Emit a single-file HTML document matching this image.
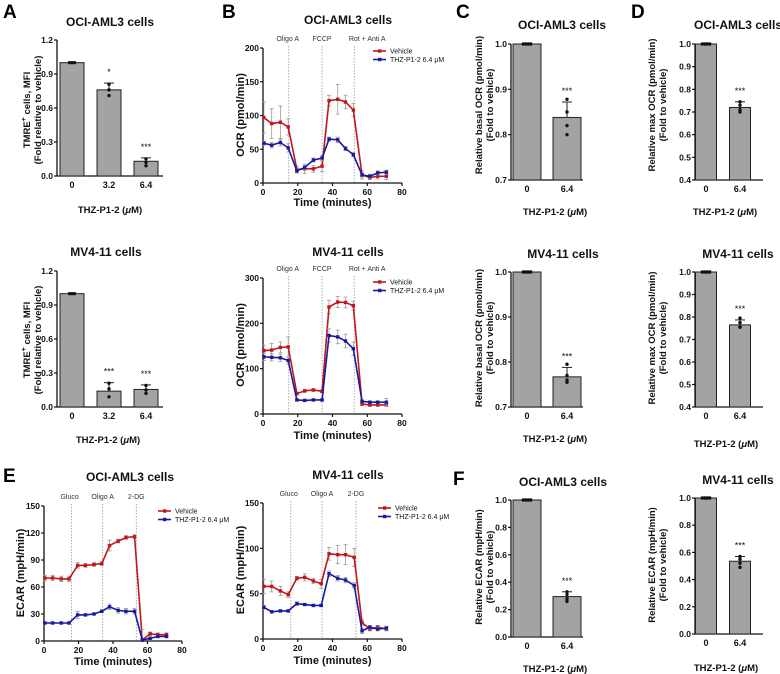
<!DOCTYPE html>
<html><head><meta charset="utf-8"><style>
html,body{margin:0;padding:0;background:#fff}
svg{display:block}
text{font-family:"Liberation Sans",sans-serif}
.b{font-weight:bold}
</style></head><body>
<svg id="fig" width="780" height="674" viewBox="0 0 780 674" xmlns="http://www.w3.org/2000/svg">
<text class="b" x="3" y="18" font-size="19">A</text>
<text class="b" x="222" y="18" font-size="19">B</text>
<text class="b" x="456" y="18" font-size="19">C</text>
<text class="b" x="631" y="18" font-size="19">D</text>
<text class="b" x="3" y="482" font-size="19">E</text>
<text class="b" x="453" y="485" font-size="19">F</text>
</svg>
<script>
// ---- Bar chart data ----
const catsA = ["0","3.2","6.4"];
const valsA_oci = [1.0,0.76,0.13];
const errA_oci = [0,0.06,0.03];
const dotsA_oci = [[1,1,1],[0.81,0.76,0.71],[0.15,0.12,0.09]];
const starsA_oci = ["","*","***"];
const valsA_mv4 = [1.0,0.14,0.155];
const errA_mv4 = [0,0.075,0.04];
const dotsA_mv4 = [[1,1,1],[0.21,0.16,0.09],[0.19,0.15,0.12]];
const starsA_mv4 = ["","***","***"];
const ticksA = [0,0.3,0.6,0.9,1.2];
const tickLabA = ["0.0","0.3","0.6","0.9","1.2"];

const cats2 = ["0","6.4"];
const stars2 = ["","***"];
const valsC_oci = [1.0,0.838]; const errC_oci=[0,0.034];
const dotsC_oci = [[1,1,1,1],[0.878,0.85,0.82,0.80]];
const valsC_mv4 = [1.0,0.767]; const errC_mv4=[0,0.021];
const dotsC_mv4 = [[1,1,1,1],[0.795,0.77,0.76,0.755]];
const ticksC = [0.7,0.8,0.9,1.0]; const tickLabC=["0.7","0.8","0.9","1.0"];
const valsD_oci = [1.0,0.72]; const errD_oci=[0,0.025];
const dotsD_oci = [[1,1,1,1],[0.745,0.73,0.71,0.70]];
const valsD_mv4 = [1.0,0.765]; const errD_mv4=[0,0.022];
const dotsD_mv4 = [[1,1,1,1],[0.795,0.775,0.755,0.755]];
const ticksD = [0.4,0.5,0.6,0.7,0.8,0.9,1.0]; const tickLabD=["0.4","0.5","0.6","0.7","0.8","0.9","1.0"];
const valsF_oci = [1.0,0.295]; const errF_oci=[0,0.035];
const dotsF_oci = [[1,1,1,1],[0.33,0.31,0.28,0.26]];
const valsF_mv4 = [1.0,0.535]; const errF_mv4=[0,0.035];
const dotsF_mv4 = [[1,1,1,1],[0.57,0.55,0.52,0.49]];
const ticksF = [0,0.2,0.4,0.6,0.8,1.0]; const tickLabF=["0.0","0.2","0.4","0.6","0.8","1.0"];

// ---- Line chart data ----
const timesOCR = [0.5,5,10,14.5,19.5,24,29,34,38,43,47.5,52,57,61.5,66,71];
const ocrOciVeh = [97,88,90,83,20,21,21,25,122,124,120,108,12,8,10,10];
const ocrOciVehErr = [23,22,24,12,5,7,5,8,8,22,10,10,6,3,4,5];
const ocrOciThz = [59,56,60,52,18,23,34,37,65,64,51,42,12,10,15,16];
const ocrOciThzErr = [3,4,5,6,3,3,3,4,3,4,3,3,3,3,3,3];
const ocrMvVeh = [140,141,147,148,45,51,53,50,236,247,246,239,22,20,20,20];
const ocrMvVehErr = [12,15,12,22,3,3,3,3,15,12,12,10,3,3,3,3];
const ocrMvThz = [126,125,124,118,31,30,31,31,173,170,161,144,28,26,26,26];
const ocrMvThzErr = [8,8,8,8,2,2,2,2,15,15,15,15,3,3,3,8];
const timesECAR = [0.5,5,10,14.5,19.5,24,29,33.5,38,43,47.5,52.5,57,61.5,66,71];
const ecOciVeh = [70,70,69,69,84,84,85,86,106,111,115,116,1,8,7,7];
const ecOciVehErr = [3,3,3,3,3,2,2,2,6,2,2,2,2,2,2,2];
const ecOciThz = [20,20,20,20,29,29,30,33,38,34,33,33,1,3,5,5];
const ecOciThzErr = [1,1,1,1,4,1,1,1,3,3,3,3,12,1,1,1];
const ecMvVeh = [58,58,53,49,67,68,64,61,94,93,93,90,18,11,13,11];
const ecMvVehErr = [8,6,5,3,2,4,3,5,7,10,11,10,3,2,2,2];
const ecMvThz = [35,30,31,31,39,38,37,37,72,67,65,59,9,13,11,12];
const ecMvThzErr = [2,1,1,1,2,1,1,1,3,3,3,3,3,2,2,2];
const ocrTicks = [0,50,100,150,200]; const ocrTicksMv=[0,100,200,300];
const ecTicks = [0,30,60,90,120,150]; const ecTicksMv=[0,50,100,150];
const xTicks = [0,20,40,60,80];
const ocrEvents = ["Oligo A","FCCP","Rot + Anti A"]; const ocrEventT=[14.8,34,52.5];
const ecEvents = ["Gluco","Oligo A","2-DG"]; const ecEventT=[16,34,53.5];

const NS="http://www.w3.org/2000/svg";
const svg=document.getElementById('fig');
function mk(tag,attrs,parent){const e=document.createElementNS(NS,tag);for(const k in attrs)e.setAttribute(k,attrs[k]);(parent||svg).appendChild(e);return e;}
function txt(s,x,y,size,bold,anchor,parent,extra){const t=mk('text',Object.assign({x:x,y:y,'font-size':size,'text-anchor':anchor||'middle','font-weight':bold?'bold':'normal',fill:'#111'},extra||{}),parent);t.textContent=s;return t;}

function yAxis(g,L,ticks,labs){
  const sy=v=>L.yb-(v-L.ymin)/(L.ymax-L.ymin)*(L.yb-L.yt);
  mk('line',{x1:L.x0,y1:sy(L.ymax),x2:L.x0,y2:L.yb,stroke:'#111','stroke-width':1.3},g);
  ticks.forEach((v,i)=>{mk('line',{x1:L.x0-3,y1:sy(v),x2:L.x0,y2:sy(v),stroke:'#111','stroke-width':1.2},g);
    txt(labs[i],L.x0-4,sy(v)+3,8.5,true,'end',g);});
  return sy;
}

function barChart(name,L,cats,vals,errs,dots,stars,ticks,labs){
  const g=mk('g',{});
  
  
  const sy=yAxis(g,L,ticks,labs);
  const sx=i=>L.x0+L.first+i*L.step;
  mk('line',{x1:L.x0,y1:L.yb,x2:L.xe,y2:L.yb,stroke:'#111','stroke-width':1.3},g);
  cats.forEach((c,i)=>{
    const cx=sx(i);
    const r=mk('rect',{x:cx-L.bw/2,y:sy(vals[i]),width:L.bw,height:L.yb-sy(vals[i]),fill:'#a3a3a3',stroke:'#222','stroke-width':1},g);
    
    
    if(errs[i]>0){const e1=sy(vals[i]+errs[i]);
      mk('line',{x1:cx,y1:sy(vals[i]),x2:cx,y2:e1,stroke:'#222','stroke-width':1},g);
      mk('line',{x1:cx-5,y1:e1,x2:cx+5,y2:e1,stroke:'#222','stroke-width':1},g);}
    dots[i].forEach((d,j)=>{const n=dots[i].length;const off=(vals[i]>=0.999)?(j-(n-1)/2)*2.5:0;
      mk('circle',{cx:cx+off,cy:sy(d),r:1.7,fill:'#111'},g);});
    if(stars[i]){txt(stars[i],cx,sy(vals[i]+errs[i])-8,9,false,'middle',g);}
    const tl=txt(c,cx,L.yb+12,9,true,'middle',g);
    
    
  });
  const t=txt(L.title,L.tx,L.ty,12,true,'middle',g);
  
  
  const xt=txt('',L.axx,L.axy,9.5,true,'middle',g);
  const s1=mk('tspan',{},xt);s1.textContent='THZ-P1-2 (';
  const s2=mk('tspan',{'font-style':'italic'},xt);s2.textContent='μ';
  const s3=mk('tspan',{},xt);s3.textContent='M)';
  
  
  const yg=mk('g',{transform:`translate(${L.ytx},${L.yty}) rotate(-90)`},g);
  
  
  L.ylines.forEach((s,i)=>{const tt=txt('',0,i*11,9.5,true,'middle',yg);
    if(s.indexOf('^+')>=0){const p=s.split('^+');const a=mk('tspan',{},tt);a.textContent=p[0];const b=mk('tspan',{dy:-4,'font-size':7},tt);b.textContent='+';const c=mk('tspan',{dy:4},tt);c.textContent=p[1];}
    else tt.textContent=s;});
}

function lineChart(name,L,times,series,ticks,events,evT){
  const g=mk('g',{});
  
  
  const sy=yAxis(g,L,ticks,ticks.map(String));
  const sx=v=>L.x0+v/80*(L.xe-L.x0);
  mk('line',{x1:L.x0,y1:L.yb,x2:L.xe,y2:L.yb,stroke:'#111','stroke-width':1.3},g);
  xTicks.forEach(v=>{mk('line',{x1:sx(v),y1:L.yb,x2:sx(v),y2:L.yb+3,stroke:'#111','stroke-width':1.2},g);
    txt(String(v),sx(v),L.yb+12,8.5,true,'middle',g);});
  events.forEach((e,i)=>{mk('line',{x1:sx(evT[i]),y1:L.yt-2,x2:sx(evT[i]),y2:L.yb,stroke:'#999','stroke-width':0.8,'stroke-dasharray':'1.5,1.5'},g);
    txt(e,sx(evT[i])+L.evOff[i],L.yt-7,7,false,'middle',g,{fill:'#333'});});
  series.forEach(s=>{
    const sg=mk('g',{},g);
    
    
    s.v.forEach((v,i)=>{const x=sx(times[i]);const a=sy(v+s.e[i]),b=sy(Math.max(0,v-s.e[i]));
      mk('line',{x1:x,y1:a,x2:x,y2:b,stroke:'#999','stroke-width':0.8},sg);
      mk('line',{x1:x-2,y1:a,x2:x+2,y2:a,stroke:'#999','stroke-width':0.8},sg);
      mk('line',{x1:x-2,y1:b,x2:x+2,y2:b,stroke:'#999','stroke-width':0.8},sg);});
    mk('polyline',{points:s.v.map((v,i)=>sx(times[i])+','+sy(v)).join(' '),fill:'none',stroke:s.c,'stroke-width':1.6},sg);
    s.v.forEach((v,i)=>mk('rect',{x:sx(times[i])-1.7,y:sy(v)-1.7,width:3.4,height:3.4,fill:s.c},sg));
  });
  const lg=mk('g',{},g);
  
  
  series.forEach((s,i)=>{const y=L.ly+i*8.5;
    mk('line',{x1:L.lx,y1:y,x2:L.lx+13,y2:y,stroke:s.c,'stroke-width':1.6},lg);
    mk('rect',{x:L.lx+5,y:y-1.7,width:3.4,height:3.4,fill:s.c},lg);
    txt(s.label,L.lx+17,y+2.5,7,false,'start',lg);});
  const t=txt(L.title,L.tx,L.ty,12,true,'middle',g);
  
  
  const xt=txt('Time (minutes)',(L.x0+L.xe)/2,L.axy,11,true,'middle',g);
  
  
  const yt=txt(L.ytitle,0,0,11,true,'middle',g,{transform:`translate(${L.ytx},${L.yty}) rotate(-90)`});
  
  
}
const RED='#c0161c',BLUE='#1a1aa0';
const thzLab='THZ-P1-2 6.4 μM';

// A
barChart('chart-a-oci',{x0:57,xe:163,yt:40,yb:176,ymin:0,ymax:1.2,first:15,step:37,bw:24,title:'OCI-AML3 cells',tx:110,ty:26,axx:110,axy:213,ytx:30,yty:110,ylines:['TMRE^+ cells, MFI','(Fold relative to vehicle)']},catsA,valsA_oci,errA_oci,dotsA_oci,starsA_oci,ticksA,tickLabA);
barChart('chart-a-mv4',{x0:57,xe:163,yt:271,yb:407,ymin:0,ymax:1.2,first:15,step:37,bw:24,title:'MV4-11 cells',tx:106,ty:256,axx:108,axy:443,ytx:30,yty:340,ylines:['TMRE^+ cells, MFI','(Fold relative to vehicle)']},catsA,valsA_mv4,errA_mv4,dotsA_mv4,starsA_mv4,ticksA,tickLabA);
// B
lineChart('chart-b-oci',{x0:263,xe:402,yt:48,yb:183,ymin:0,ymax:200,lx:373,ly:51,title:'OCI-AML3 cells',tx:348,ty:24,axy:206,ytx:244,yty:115,ytitle:'OCR (pmol/min)',evOff:[-1,0,13]},timesOCR,
 [{name:'series-vehicle',label:'Vehicle',c:RED,v:ocrOciVeh,e:ocrOciVehErr},{name:'series-thz',label:thzLab,c:BLUE,v:ocrOciThz,e:ocrOciThzErr}],ocrTicks,ocrEvents,ocrEventT);
lineChart('chart-b-mv4',{x0:263,xe:402,yt:278,yb:414,ymin:0,ymax:300,lx:373,ly:282,title:'MV4-11 cells',tx:348,ty:256,axy:439,ytx:244,yty:345,ytitle:'OCR (pmol/min)',evOff:[-1,0,13]},timesOCR,
 [{name:'series-vehicle',label:'Vehicle',c:RED,v:ocrMvVeh,e:ocrMvVehErr},{name:'series-thz',label:thzLab,c:BLUE,v:ocrMvThz,e:ocrMvThzErr}],ocrTicksMv,ocrEvents,ocrEventT);
// C
barChart('chart-c-oci',{x0:511,xe:583,yt:44,yb:180,ymin:0.7,ymax:1.0,first:16,step:40,bw:28,title:'OCI-AML3 cells',tx:562,ty:29,axx:555,axy:215,ytx:482,yty:105,ylines:['Relative basal OCR  (pmol/min)','(Fold to vehicle)']},cats2,valsC_oci,errC_oci,dotsC_oci,stars2,ticksC,tickLabC);
barChart('chart-c-mv4',{x0:511,xe:583,yt:272,yb:407,ymin:0.7,ymax:1.0,first:16,step:40,bw:28,title:'MV4-11 cells',tx:563,ty:258,axx:555,axy:442,ytx:482,yty:338,ylines:['Relative basal OCR  (pmol/min)','(Fold to vehicle)']},cats2,valsC_mv4,errC_mv4,dotsC_mv4,stars2,ticksC,tickLabC);
// D
barChart('chart-d-oci',{x0:695,xe:763,yt:44,yb:180,ymin:0.4,ymax:1.0,first:11,step:34,bw:21,title:'OCI-AML3 cells',tx:738,ty:29,axx:725,axy:215,ytx:655,yty:105,ylines:['Relative max OCR  (pmol/min)','(Fold to vehicle)']},cats2,valsD_oci,errD_oci,dotsD_oci,stars2,ticksD,tickLabD);
barChart('chart-d-mv4',{x0:695,xe:763,yt:272,yb:407,ymin:0.4,ymax:1.0,first:11,step:34,bw:21,title:'MV4-11 cells',tx:738,ty:258,axx:726,axy:447,ytx:655,yty:338,ylines:['Relative max OCR  (pmol/min)','(Fold to vehicle)']},cats2,valsD_mv4,errD_mv4,dotsD_mv4,stars2,ticksD,tickLabD);
// E
lineChart('chart-e-oci',{x0:44,xe:182,yt:506,yb:641,ymin:0,ymax:150,lx:158,ly:511,title:'OCI-AML3 cells',tx:130,ty:481,axy:665,ytx:24,yty:573,ytitle:'ECAR (mpH/min)',evOff:[-2,0,0]},timesECAR,
 [{name:'series-vehicle',label:'Vehicle',c:RED,v:ecOciVeh,e:ecOciVehErr},{name:'series-thz',label:thzLab,c:BLUE,v:ecOciThz,e:ecOciThzErr}],ecTicks,ecEvents,ecEventT);
lineChart('chart-e-mv4',{x0:263,xe:402,yt:503,yb:639,ymin:0,ymax:150,lx:378,ly:508,title:'MV4-11 cells',tx:348,ty:479,axy:664,ytx:244,yty:570,ytitle:'ECAR (mpH/min)',evOff:[-2,0,0]},timesECAR,
 [{name:'series-vehicle',label:'Vehicle',c:RED,v:ecMvVeh,e:ecMvVehErr},{name:'series-thz',label:thzLab,c:BLUE,v:ecMvThz,e:ecMvThzErr}],ecTicksMv,ecEvents,ecEventT);
// F
barChart('chart-f-oci',{x0:511,xe:583,yt:500,yb:637,ymin:0,ymax:1.0,first:16,step:40,bw:28,title:'OCI-AML3 cells',tx:563,ty:486,axx:555,axy:672,ytx:482,yty:567,ylines:['Relative ECAR (mpH/min)','(Fold to vehicle)']},cats2,valsF_oci,errF_oci,dotsF_oci,stars2,ticksF,tickLabF);
barChart('chart-f-mv4',{x0:695,xe:763,yt:498,yb:634,ymin:0,ymax:1.0,first:11,step:34,bw:21,title:'MV4-11 cells',tx:738,ty:484,axx:726,axy:671,ytx:655,yty:565,ylines:['Relative ECAR (mpH/min)','(Fold to vehicle)']},cats2,valsF_mv4,errF_mv4,dotsF_mv4,stars2,ticksF,tickLabF);
</script>
</body></html>
